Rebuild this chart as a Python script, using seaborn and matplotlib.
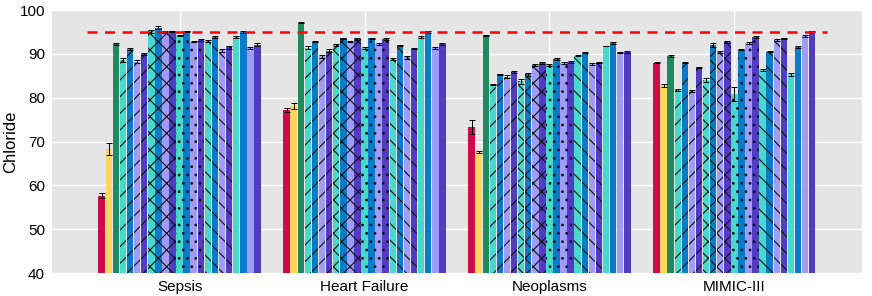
import numpy as np
import pandas as pd
import matplotlib
matplotlib.use("Agg")
import matplotlib.pyplot as plt
import seaborn as sns

groups = ["Sepsis", "Heart Failure", "Neoplasms", "MIMIC-III"]
series = [f"m{i}" for i in range(23)]

sepsis = [57.6, 68.3, 92.3, 88.6, 91.1, 88.2, 90.0, 95.1, 96.0, 94.9, 95.1, 94.2,
          95.1, 92.8, 93.1, 92.9, 93.8, 90.8, 91.5, 93.9, 95.0, 91.3, 92.1]
heart = [77.2, 78.1, 97.1, 91.4, 92.8, 89.4, 90.7, 92.1, 93.5, 92.8, 93.3, 91.4,
         93.5, 92.2, 93.4, 88.9, 91.9, 89.2, 91.2, 93.9, 94.9, 91.3, 92.3]
neo = [73.3, 67.6, 94.2, 83.0, 85.3, 84.8, 85.9, 83.7, 85.3, 87.5, 87.9, 87.4,
       88.8, 87.9, 88.2, 89.6, 90.3, 87.7, 88.0, 91.8, 92.4, 90.3, 90.5]
mimic = [88.0, 82.8, 89.5, 81.8, 88.0, 81.5, 86.9, 84.1, 92.0, 90.5, 92.7, 80.9,
         90.9, 92.4, 93.8, 86.3, 90.5, 93.2, 93.5, 85.3, 91.5, 94.1, 95.1]

err_sepsis = [0.6, 1.4, 0.2, 0.4, 0.3, 0.4, 0.2, 0.4, 0.3, 0.2, 0.2, 0.2,
              0.2, 0.2, 0.2, 0.3, 0.3, 0.4, 0.4, 0.2, 0.2, 0.3, 0.3]
err_heart = [0.5, 0.6, 0.1, 0.3, 0.2, 0.3, 0.3, 0.2, 0.2, 0.2, 0.2, 0.2,
             0.2, 0.2, 0.2, 0.2, 0.2, 0.3, 0.2, 0.2, 0.2, 0.2, 0.2]
err_neo = [1.6, 0.2, 0.2, 0.2, 0.2, 0.3, 0.2, 0.5, 0.4, 0.2, 0.2, 0.2,
           0.2, 0.2, 0.2, 0.2, 0.1, 0.2, 0.2, 0.1, 0.2, 0.2, 0.2]
err_mimic = [0.2, 0.3, 0.2, 0.2, 0.2, 0.2, 0.2, 0.5, 0.5, 0.2, 0.3, 1.6,
             0.1, 0.2, 0.2, 0.3, 0.1, 0.2, 0.2, 0.3, 0.2, 0.2, 0.1]

palette7 = ["#D10A4C", "#FFD75F", "#1F8A5E"]
quad = ["#48D8CC", "#0A7BC9", "#A09CFA", "#523CC2"]
colors = palette7 + quad * 5
hatches = ["", "", ""] + ["//"] * 4 + ["xx"] * 4 + [".."] * 4 + ["\\\\"] * 4 + [""] * 4
threshold = 95

values = [sepsis, heart, neo, mimic]
errs = [err_sepsis, err_heart, err_neo, err_mimic]
rows = []
for g, vals in zip(groups, values):
    for s, v in zip(series, vals):
        rows.append({"group": g, "series": s, "value": v})
df = pd.DataFrame(rows)

sns.set_theme(style="darkgrid")
plt.rcParams["font.family"] = ["Liberation Sans", "DejaVu Sans"]
plt.rcParams["hatch.linewidth"] = 0.8
plt.rcParams["hatch.color"] = "black"

fig = plt.figure(figsize=(8.72, 2.96), dpi=100)
ax = fig.add_axes([0.0596, 0.0777, 0.9289, 0.8885])
ax.set_facecolor("#E5E5E5")

sns.barplot(data=df, x="group", y="value", hue="series", palette=colors,
            width=0.88, gap=0.08, ax=ax, legend=False, errorbar=None,
            linewidth=0, saturation=1)

bar_conts = list(ax.containers)
for i, cont in enumerate(bar_conts):
    for j, p in enumerate(cont.patches):
        if hatches[i]:
            p.set_hatch(hatches[i])
            p.set_edgecolor("#111111")
            p.set_linewidth(0)
        cx = p.get_x() + p.get_width() / 2
        ax.errorbar(cx, p.get_height(), yerr=errs[j][i], fmt="none",
                    ecolor="black", elinewidth=0.7, capsize=2, capthick=0.7,
                    zorder=5)

ax.hlines(threshold, -0.5, 3.5, colors="red", linestyles=(0, (4, 3)),
          linewidth=1.8, zorder=6)

ax.set_ylim(40, 100)
ax.set_xlim(-0.69, 3.69)
ax.set_yticks(range(40, 101, 10))
ax.grid(True, color="white", linewidth=1)
ax.set_axisbelow(True)
for s in ax.spines.values():
    s.set_visible(False)
ax.tick_params(axis="both", length=3, color="#333333", labelsize=11,
               labelcolor="black", pad=2)
ax.set_xlabel("")
ax.set_ylabel("Chloride", fontsize=12, color="black", labelpad=1)

fig.savefig("out.png", dpi=100)
